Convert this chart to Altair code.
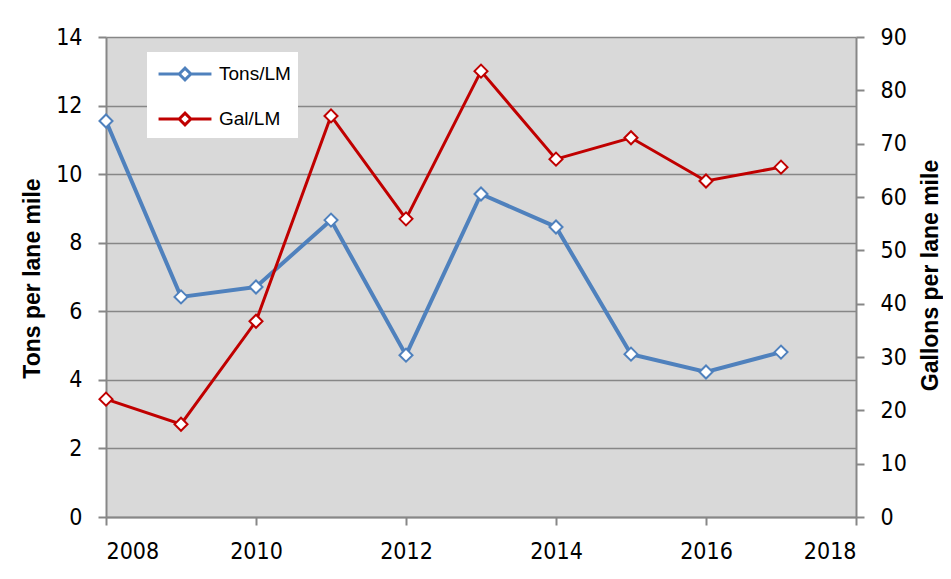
import altair as alt
import pandas as pd

years = [2008, 2009, 2010, 2011, 2012, 2013, 2014, 2015, 2016, 2017]
tons = [11.55, 6.42, 6.71, 8.66, 4.72, 9.42, 8.46, 4.75, 4.23, 4.81]
gal = [22.1, 17.4, 36.7, 75.2, 55.9, 83.6, 67.1, 71.1, 63.0, 65.6]
series = ["Tons/LM", "Gal/LM"]
colors = ["#4F81BD", "#C00000"]
x_ticks = [2008, 2010, 2012, 2014, 2016, 2018]
left_ticks = [0, 2, 4, 6, 8, 10, 12, 14]
right_ticks = [0, 10, 20, 30, 40, 50, 60, 70, 80, 90]

df_t = pd.DataFrame({"year": years, "value": tons, "series": series[0]})
df_g = pd.DataFrame({"year": years, "value": gal, "series": series[1]})

FONT = "Liberation Sans Narrow, DejaVu Sans Condensed, sans-serif"
TFONT = "Liberation Sans, Arial, sans-serif"
GRAY = "#878787"

color = alt.Color(
    "series:N",
    scale=alt.Scale(domain=series, range=colors),
    legend=alt.Legend(
        title=None, orient="none", legendX=41, legendY=15,
        fillColor="white", padding=7, rowPadding=18, symbolOffset=16,
        symbolType="M-2,0L-0.44,0M0.44,0L2,0M-0.44,0L0,-0.44L0.44,0L0,0.44Z",
        symbolSize=700, symbolStrokeWidth=3, symbolFillColor="white",
        labelFont=TFONT, labelFontSize=19, labelColor="black", labelOffset=19,
    ),
)

x = alt.X(
    "year:Q",
    scale=alt.Scale(domain=[2008, 2018], nice=False, zero=False),
    axis=alt.Axis(
        values=x_ticks, format="d", title=None, grid=False,
        domainColor=GRAY, domainWidth=2, tickColor=GRAY, tickWidth=2, tickSize=8,
        labelFont=FONT, labelFontSize=23, labelColor="black", labelPadding=15,
    ),
)

y_left = alt.Y(
    "value:Q",
    scale=alt.Scale(domain=[0, 14], nice=False),
    axis=alt.Axis(
        values=left_ticks, title="Tons per lane mile", grid=True,
        gridColor=GRAY, gridWidth=1.5, domainColor=GRAY, domainWidth=2,
        tickColor=GRAY, tickWidth=2, tickSize=8,
        labelFont=FONT, labelFontSize=23, labelColor="black", labelPadding=16,
        titleFont=TFONT, titleFontSize=23, titleFontWeight="bold", titleColor="black",
        titleX=-74, titleY=241, titleAlign="center", titleBaseline="middle",
    ),
)

y_right = alt.Y(
    "value:Q",
    scale=alt.Scale(domain=[0, 90], nice=False),
    axis=alt.Axis(
        values=right_ticks, orient="right", title="Gallons per lane mile", grid=False,
        domainColor=GRAY, domainWidth=2, tickColor=GRAY, tickWidth=2, tickSize=8,
        labelFont=FONT, labelFontSize=23, labelColor="black", labelPadding=16,
        titleFont=TFONT, titleFontSize=23, titleFontWeight="bold", titleColor="black",
        titleAngle=270, titleX=74, titleY=238, titleAlign="center", titleBaseline="middle",
    ),
)

tons_line = alt.Chart(df_t).mark_line(strokeWidth=4).encode(x=x, y=y_left, color=color)
tons_pt = alt.Chart(df_t).mark_point(
    shape="diamond", filled=False, fill="white", fillOpacity=1, opacity=1,
    size=170, strokeWidth=2
).encode(x=x, y=y_left, color=color)

gal_line = alt.Chart(df_g).mark_line(strokeWidth=3).encode(x=x, y=y_right, color=color)
gal_pt = alt.Chart(df_g).mark_point(
    shape="diamond", filled=False, fill="white", fillOpacity=1, opacity=1,
    size=170, strokeWidth=2
).encode(x=x, y=y_right, color=color)

left = alt.layer(tons_line, tons_pt)
right = alt.layer(gal_line, gal_pt)

chart = (
    alt.layer(left, right)
    .resolve_scale(y="independent")
    .properties(
        width=750, height=480,
        padding={"left": 98, "top": 29, "right": 87, "bottom": 52},
        autosize=alt.AutoSizeParams(type="none"),
        background="white",
    )
    .configure_view(stroke=None, fill="#D9D9D9")
)

chart.save("out.html", embed_options={"renderer": "svg", "actions": False})
